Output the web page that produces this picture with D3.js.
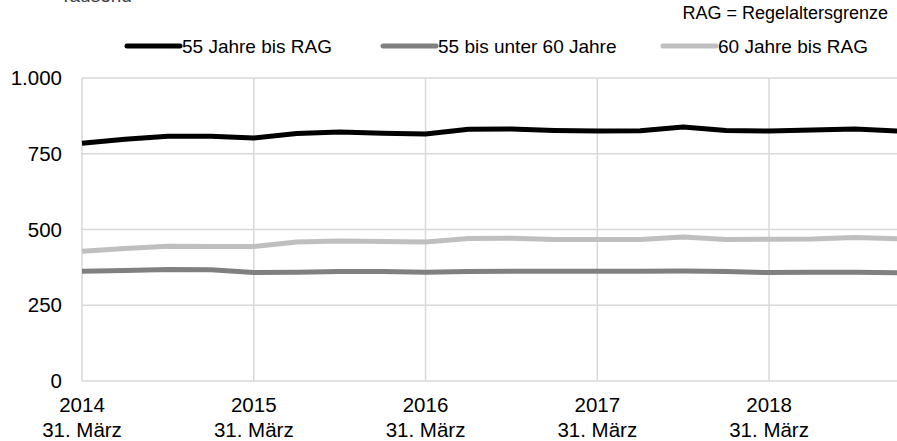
<!DOCTYPE html>
<html><head><meta charset="utf-8">
<script src="https://cdn.jsdelivr.net/npm/d3@7"></script>
<style>body{margin:0;background:#fff}svg{display:block;font-family:"Liberation Sans",Arial,sans-serif}</style>
</head><body>
<svg id="c" width="897" height="441"></svg>
<script>
const quarters = d3.range(20); // Mar 2014 .. Dec 2018, quarterly
const yearTicks = [2014, 2015, 2016, 2017, 2018];
const yTicks = [0, 250, 500, 750, 1000];
const seriesNames = ["55 Jahre bis RAG", "55 bis unter 60 Jahre", "60 Jahre bis RAG"];
const s55RAG = [785, 798, 808, 808, 802, 817, 822, 818, 815, 831, 832, 827, 825, 826, 838, 827, 825, 828, 832, 825];
const s55to60 = [362, 365, 368, 367, 358, 359, 361, 361, 359, 361, 362, 362, 362, 362, 363, 361, 358, 359, 359, 357];
const s60RAG = [428, 437, 445, 444, 444, 459, 462, 460, 459, 470, 471, 467, 467, 467, 475, 467, 468, 469, 474, 469];
const colors = ["#000000", "#808080", "#bfbfbf"];

const svg = d3.select("#c");
const x = d3.scaleLinear().domain([0, 19]).range([82, 897.9]);
const y = d3.scaleLinear().domain([0, 1000]).range([381, 78]);

// top-left unit label (cut off at the top, as in the reference)
svg.append("text").attr("x", 60).attr("y", 1.5).attr("font-size", 19).attr("fill", "#404040").text("Tausend");

// gridlines
const g = svg.append("g");
g.selectAll(".h").data(yTicks).join("line")
  .attr("x1", 82).attr("x2", 897).attr("y1", d => y(d)).attr("y2", d => y(d))
  .attr("stroke", "#d9d9d9").attr("stroke-width", 1.5);
g.selectAll(".v").data(yearTicks).join("line")
  .attr("x1", d => x((d - 2014) * 4)).attr("x2", d => x((d - 2014) * 4))
  .attr("y1", 78).attr("y2", 381)
  .attr("stroke", "#d9d9d9").attr("stroke-width", 1.5);

// y labels
svg.selectAll(".yl").data(yTicks).join("text")
  .attr("x", 62).attr("y", d => y(d) + 7).attr("text-anchor", "end")
  .attr("font-size", 20.5).attr("fill", "#000")
  .text(d => d3.format(",")(d).replace(/,/g, "."));

// x labels
const xl = svg.selectAll(".xl").data(yearTicks).join("text")
  .attr("text-anchor", "middle").attr("font-size", 20.5).attr("fill", "#000");
xl.append("tspan").attr("x", d => x((d - 2014) * 4)).attr("y", 412).text(d => d);
xl.append("tspan").attr("x", d => x((d - 2014) * 4)).attr("y", 437).text("31. März");

// lines
const data = [s55RAG, s55to60, s60RAG];
const line = d3.line().x((d, i) => x(i)).y(d => y(d));
[2, 1, 0].forEach(k => {
  svg.append("path").datum(data[k]).attr("d", line).attr("fill", "none")
    .attr("stroke", colors[k]).attr("stroke-width", 5).attr("stroke-linejoin", "round");
});

// legend
const legX = [127, 383, 663];
seriesNames.forEach((n, k) => {
  svg.append("line").attr("x1", legX[k]).attr("x2", legX[k] + 53).attr("y1", 46).attr("y2", 46)
    .attr("stroke", colors[k]).attr("stroke-width", 5).attr("stroke-linecap", "round");
  svg.append("text").attr("x", legX[k] + 55).attr("y", 53).attr("font-size", 19).attr("fill", "#000").text(n);
});
svg.append("text").attr("x", 888).attr("y", 19).attr("text-anchor", "end")
  .attr("font-size", 18).attr("fill", "#000").text("RAG = Regelaltersgrenze");
</script>
</body></html>
